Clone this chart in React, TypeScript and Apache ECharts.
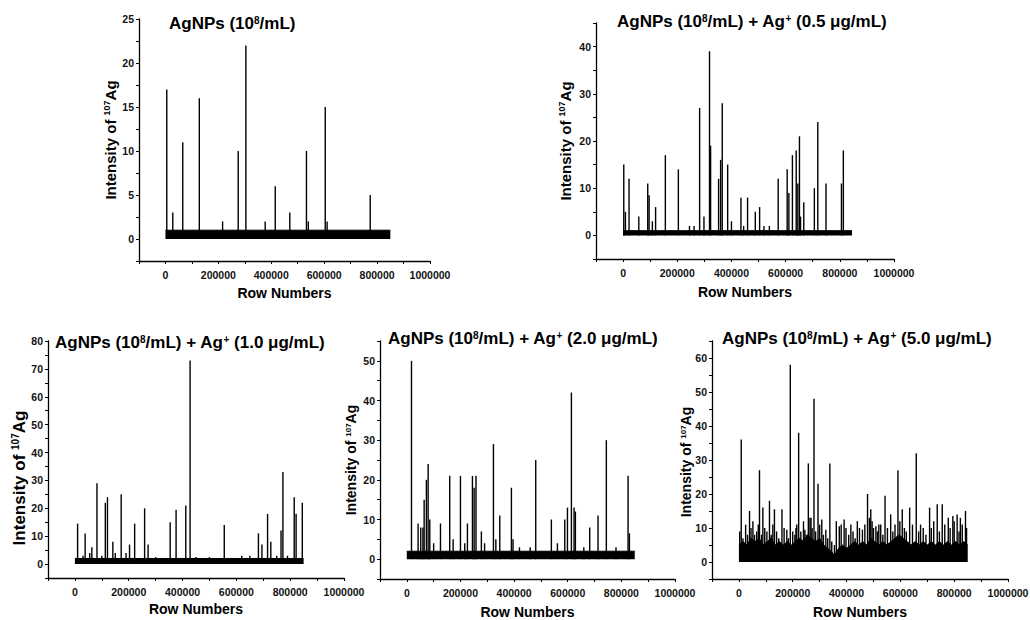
import React, { useEffect, useRef } from "react";
import * as echarts from "echarts";

// ---------- text (rich-text superscripts: {sup|...}) ----------
const panelTitles = [
  "AgNPs (10{sup|8}/mL)",
  "AgNPs (10{sup|8}/mL) + Ag{sup|+} (0.5 μg/mL)",
  "AgNPs (10{sup|8}/mL) + Ag{sup|+} (1.0 μg/mL)",
  "AgNPs (10{sup|8}/mL) + Ag{sup|+} (2.0 μg/mL)",
  "AgNPs (10{sup|8}/mL) + Ag{sup|+} (5.0 μg/mL)",
];
const yTitle = "Intensity of {sup|107}Ag";
const xTitle = "Row Numbers";

// ---------- tick labels ----------
const xTickLabels = [0, 200000, 400000, 600000, 800000, 1000000];
const yTickLabels1 = [0, 5, 10, 15, 20, 25];
const yTickLabels2 = [0, 10, 20, 30, 40];
const yTickLabels3 = [0, 10, 20, 30, 40, 50, 60, 70, 80];
const yTickLabels4 = [0, 10, 20, 30, 40, 50];
const yTickLabels5 = [0, 10, 20, 30, 40, 50, 60];

// ---------- data: [row number, intensity] ----------
const band1 = [[0, 1], [850000, 1]];
const spikes1 = [
  [5000, 17], [27700, 3], [65400, 11], [128000, 16], [216000, 2], [275000, 10],
  [304000, 22], [377000, 2], [415000, 6], [470000, 3], [533000, 10], [540000, 2],
  [604000, 15], [611000, 2], [774000, 5],
];

const band2 = [[0, 1], [845000, 1]];
const spikes2 = [
  [2500, 15], [8600, 5], [22000, 12], [58000, 4], [91000, 11], [96000, 8.5],
  [108000, 3], [120000, 6], [156000, 17], [204000, 14], [245000, 2], [262000, 2],
  [282500, 27], [298500, 4], [319000, 39], [323000, 19], [352500, 12], [360000, 16],
  [366000, 28], [386000, 15], [400000, 3], [435000, 8], [445000, 2], [459500, 8],
  [488000, 5], [504000, 6], [520000, 2], [540000, 2], [572500, 12], [605700, 14],
  [612000, 9], [625000, 17], [639000, 18], [645000, 11], [651000, 21], [655000, 4],
  [667000, 7], [706000, 10], [718700, 24], [749000, 11], [806000, 11], [813000, 18],
];

const band3 = [[0, 2], [850000, 2]];
const spikes3 = [
  [10000, 14.5], [30000, 3], [38000, 11], [55000, 4], [63000, 6], [82000, 29],
  [100000, 3], [113000, 22], [121000, 24], [141000, 8], [150000, 4], [172000, 25],
  [190000, 4], [203000, 7], [222000, 14.5], [259000, 20], [272000, 7], [300000, 2.5],
  [354000, 15], [376000, 19.5], [412000, 21], [428000, 73], [450000, 2.5], [500000, 2.5],
  [555000, 14], [620000, 3], [650000, 3], [682000, 11], [695000, 7], [716000, 18],
  [728000, 8], [750000, 3], [766000, 12], [773000, 33], [790000, 3], [815000, 24],
  [822000, 18], [845000, 22],
];

const band4 = [[0, 2], [850000, 2]];
const spikes4 = [
  [17400, 50], [42000, 9], [52000, 8], [60000, 8], [64600, 15], [73000, 20],
  [79500, 24], [85700, 10], [100000, 4], [125500, 9], [160000, 21], [172700, 5],
  [200000, 21], [216000, 4], [226000, 9], [244700, 21], [251000, 18], [258000, 21],
  [278000, 7], [290000, 4], [323000, 29], [332000, 5], [346600, 11], [390000, 18],
  [396000, 5], [420000, 3], [460000, 3], [480700, 25], [539000, 10], [561500, 4],
  [589000, 10], [599000, 13], [613700, 42], [623600, 13], [628600, 12], [660000, 3],
  [682000, 8], [713000, 11], [744000, 30], [780000, 3], [825000, 21], [830000, 6.5],
];

const band5 = [
  [0, 5], [15000, 6], [30000, 5], [45000, 7], [60000, 6], [75000, 7], [90000, 5],
  [105000, 6], [120000, 7], [135000, 5], [150000, 6], [165000, 5], [180000, 6],
  [195000, 5], [210000, 6], [225000, 7], [240000, 6], [255000, 8], [270000, 7],
  [285000, 6], [300000, 7], [315000, 5], [330000, 4], [345000, 3], [355000, 2],
  [370000, 4], [385000, 5], [400000, 4], [415000, 5], [430000, 6], [445000, 5],
  [460000, 6], [475000, 5], [490000, 7], [505000, 6], [520000, 5], [535000, 6],
  [550000, 5], [565000, 6], [580000, 7], [595000, 8], [610000, 7], [625000, 6],
  [640000, 5], [655000, 6], [670000, 5], [685000, 6], [700000, 5], [715000, 6],
  [730000, 5], [745000, 6], [760000, 5], [775000, 6], [790000, 5], [805000, 6],
  [820000, 5], [835000, 6], [850000, 5],
];
const spikes5 = [
  [8600, 36], [39500, 15], [52000, 12], [76500, 27], [89000, 16], [113600, 18],
  [132000, 15.5], [160000, 15.5], [178000, 9.5], [191000, 58], [212000, 10],
  [222000, 38], [245000, 9.5], [258000, 29], [268000, 13], [279000, 48], [294000, 23],
  [308000, 12.5], [323000, 9.5], [338000, 29], [362000, 12], [373000, 10.5],
  [391000, 12.5], [416000, 11], [440000, 12], [459000, 9.5], [478000, 20], [490000, 15.5],
  [509000, 10.5], [527000, 11], [543000, 19.5], [564000, 14], [591000, 27], [607000, 15.5],
  [634500, 16], [659000, 32], [675000, 11], [708600, 16], [737000, 17], [755600, 17],
  [778000, 13], [795000, 13.5], [811000, 14], [823000, 13], [842000, 15],
];
const noise5 = [
  [3000, 9], [15000, 7], [25000, 11], [32000, 8], [45000, 10], [58000, 8], [66000, 9],
  [72000, 11], [84000, 8], [96000, 10], [104000, 9], [120000, 8], [126000, 11],
  [140000, 9], [148000, 7], [168000, 10], [184000, 7], [200000, 9], [208000, 8],
  [215000, 11], [230000, 9], [240000, 12], [250000, 8], [264000, 13], [272000, 10],
  [285000, 9], [300000, 11], [314000, 8], [330000, 7], [345000, 6], [355000, 5],
  [380000, 11], [398000, 10], [408000, 8], [424000, 9], [432000, 7], [448000, 10],
  [468000, 11], [485000, 13], [495000, 12], [500000, 10], [515000, 9], [520000, 11],
  [535000, 8], [552000, 10], [572000, 9], [580000, 11], [598000, 12], [615000, 10],
  [622000, 9], [645000, 11], [668000, 9], [685000, 10], [695000, 8], [715000, 10],
  [724000, 12], [745000, 9], [765000, 11], [785000, 10], [800000, 12], [818000, 9],
  [830000, 11], [846000, 10],
];

// ---------- layout ----------
const FONT = "'Liberation Sans', Arial, 'DejaVu Sans', sans-serif";

const panels = [
  { grid: { left: 139, top: 19, width: 291, height: 242 }, yMin: -2.5, yMax: 25, yStep: 2.5, yLabels: yTickLabels1,
    band: band1, spikes: spikes1, title: { left: 169, top: 15 }, yName: { x: 110, y: 140, size: 15 }, xGap: 25 },
  { grid: { left: 596, top: 23, width: 298, height: 236 }, yMin: -5, yMax: 45, yStep: 5, yLabels: yTickLabels2,
    band: band2, spikes: spikes2, title: { left: 617, top: 13 }, yName: { x: 565, y: 141, size: 15 }, xGap: 26 },
  { grid: { left: 48, top: 341, width: 296, height: 237 }, yMin: -5, yMax: 80, yStep: 5, yLabels: yTickLabels3,
    band: band3, spikes: spikes3, title: { left: 55, top: 334 }, yName: { x: 19, y: 478, size: 17 }, xGap: 24 },
  { grid: { left: 380, top: 341, width: 295, height: 238 }, yMin: -5, yMax: 55, yStep: 5, yLabels: yTickLabels4,
    band: band4, spikes: spikes4, title: { left: 388, top: 330 }, yName: { x: 351, y: 460, size: 14 }, xGap: 26 },
  { grid: { left: 712, top: 341, width: 296, height: 238 }, yMin: -5, yMax: 65, yStep: 5, yLabels: yTickLabels5,
    band: band5, spikes: spikes5.concat(noise5), title: { left: 722, top: 330 }, yName: { x: 686, y: 462, size: 14 }, xGap: 26 },
];

function supStyle(size: number) {
  return { fontSize: size, fontWeight: "bold", fontFamily: FONT, color: "#000", fill: "#000", verticalAlign: "top" };
}

function buildOption() {
  const axisLine = { show: true, onZero: false, lineStyle: { color: "#000", width: 1.3 } };
  const labelStyle = { color: "#111", fontSize: 10.5, fontWeight: "bold" as const, fontFamily: FONT };
  return {
    animation: false,
    backgroundColor: "#fff",
    title: panels.map((p, i) => ({
      text: panelTitles[i],
      left: p.title.left,
      top: p.title.top,
      padding: 0,
      textStyle: {
        fontSize: 17,
        fontWeight: "bold",
        fontFamily: FONT,
        color: "#000",
        rich: { sup: supStyle(10) },
      },
    })),
    grid: panels.map((p) => ({ ...p.grid, containLabel: false, outerBoundsMode: "none" })),
    xAxis: panels.map((p, i) => ({
      type: "value",
      gridIndex: i,
      min: -100000,
      max: 1000000,
      interval: 100000,
      axisLine,
      splitLine: { show: false },
      axisTick: { show: true, length: 3, inside: false, lineStyle: { color: "#000", width: 1 } },
      axisLabel: {
        ...labelStyle,
        margin: 8,
        showMinLabel: true,
        showMaxLabel: true,
        formatter: (v: number) => (xTickLabels.indexOf(v) >= 0 ? String(v) : ""),
      },
      name: xTitle,
      nameLocation: "middle",
      nameGap: p.xGap,
      nameTextStyle: { fontSize: 14, fontWeight: "bold", fontFamily: FONT, color: "#000" },
    })),
    yAxis: panels.map((p, i) => ({
      type: "value",
      gridIndex: i,
      min: p.yMin,
      max: p.yMax,
      interval: p.yStep,
      axisLine,
      splitLine: { show: false },
      axisTick: { show: true, length: 3, inside: false, lineStyle: { color: "#000", width: 1 } },
      axisLabel: {
        ...labelStyle,
        margin: 5,
        formatter: (v: number) => (p.yLabels.some((t) => Math.abs(t - v) < 1e-6) ? String(Math.round(v)) : ""),
      },
    })),
    graphic: panels.map((p) => ({
      type: "text",
      x: p.yName.x,
      y: p.yName.y,
      rotation: Math.PI / 2,
      style: {
        text: yTitle,
        fontSize: p.yName.size,
        fontWeight: "bold",
        fontFamily: FONT,
        fill: "#000",
        align: "center",
        verticalAlign: "middle",
        rich: { sup: supStyle(Math.round(p.yName.size * 0.6)) },
      },
    })),
    series: panels.flatMap((p, i) => [
      {
        type: "line",
        xAxisIndex: i,
        yAxisIndex: i,
        data: p.band,
        symbol: "none",
        silent: true,
        lineStyle: { color: "#000", width: 1 },
        areaStyle: { color: "#000", opacity: 1 },
      },
      {
        type: "bar",
        xAxisIndex: i,
        yAxisIndex: i,
        data: p.spikes,
        barWidth: 1.4,
        silent: true,
        itemStyle: { color: "#000" },
      },
    ]),
  };
}

export default function App() {
  const ref = useRef<HTMLDivElement | null>(null);
  useEffect(() => {
    if (!ref.current) return;
    const chart = echarts.init(ref.current, undefined, { renderer: "svg" });
    chart.setOption(buildOption() as any);
    return () => chart.dispose();
  }, []);
  return (
    <div
      ref={ref}
      style={{ position: "fixed", left: 0, top: 0, width: 1030, height: 620, background: "#fff" }}
    />
  );
}
